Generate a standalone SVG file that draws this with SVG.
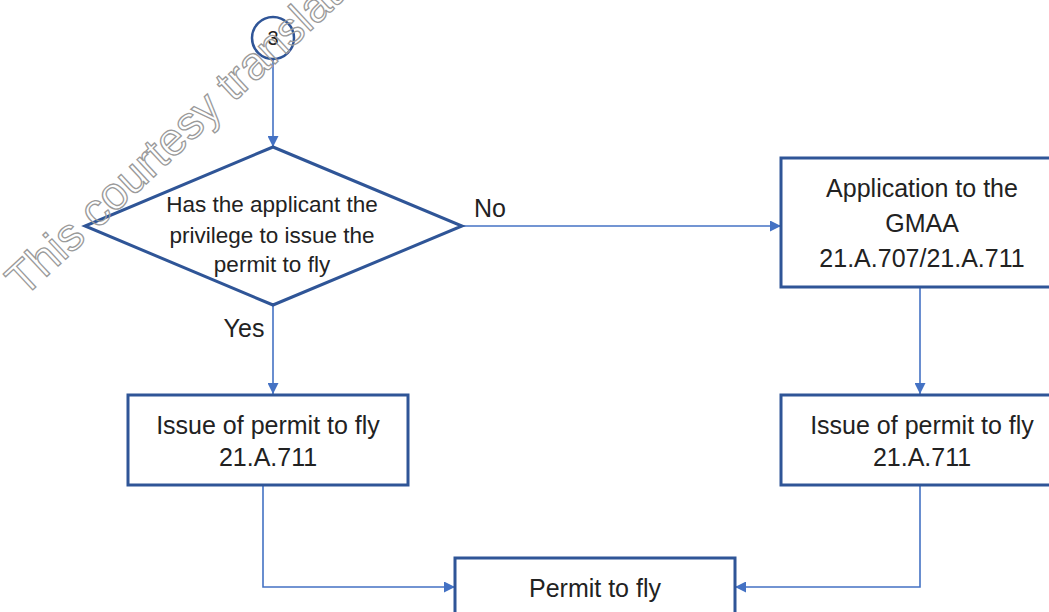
<svg xmlns="http://www.w3.org/2000/svg" width="1049" height="612" viewBox="0 0 1049 612">
<style>
.box{fill:#fff;stroke:#2F5597;stroke-width:3}
.conn{fill:none;stroke:#4472C4;stroke-width:1.6}
.t{font-family:"Liberation Sans",Arial,sans-serif;font-size:25px;fill:#222;text-anchor:middle}
.d{font-size:22.5px}
.wm{font-family:"Liberation Sans",Arial,sans-serif;font-size:46px;fill:none;stroke:#9a9a9a;stroke-width:1.3}
</style>
<defs>
<marker id="ah" viewBox="0 0 10 10" refX="10" refY="5" markerWidth="11" markerHeight="11" markerUnits="userSpaceOnUse" orient="auto">
<path d="M0,0 L10,5 L0,10 z" fill="#4472C4"/>
</marker>
</defs>
<g id="connectors">
<line class="conn" x1="273" y1="60" x2="273" y2="147" marker-end="url(#ah)"/>
<line class="conn" x1="462" y1="226" x2="781" y2="226" marker-end="url(#ah)"/>
<line class="conn" x1="273" y1="305" x2="273" y2="394" marker-end="url(#ah)"/>
<line class="conn" x1="920" y1="287" x2="920" y2="394" marker-end="url(#ah)"/>
<polyline class="conn" points="263,486 263,587 455,587" marker-end="url(#ah)"/>
<polyline class="conn" points="920,486 920,587 735,587" marker-end="url(#ah)"/>
<text class="t" x="490" y="217">No</text>
<text class="t" x="244" y="337">Yes</text>
</g>
<g id="start">
<circle cx="273" cy="38" r="21" fill="#fff" stroke="#2F5597" stroke-width="2.5"/>
<text class="t" x="273" y="45" style="font-size:20px">3</text>
</g>
<g id="decision">
<polygon class="box" points="273,147 462,226 273,305 85,226"/>
<text class="t d" x="272" y="212">Has the applicant the</text>
<text class="t d" x="272" y="243">privilege to issue the</text>
<text class="t d" x="272" y="272">permit to fly</text>
</g>
<g id="application">
<rect class="box" x="781" y="158" width="280" height="129"/>
<text class="t" x="922" y="197">Application to the</text>
<text class="t" x="922" y="232">GMAA</text>
<text class="t" x="922" y="267">21.A.707/21.A.711</text>
</g>
<g id="issue-left">
<rect class="box" x="128" y="395" width="280" height="90"/>
<text class="t" x="268" y="434">Issue of permit to fly</text>
<text class="t" x="268" y="466">21.A.711</text>
</g>
<g id="issue-right">
<rect class="box" x="781" y="395" width="280" height="90"/>
<text class="t" x="922" y="434">Issue of permit to fly</text>
<text class="t" x="922" y="466">21.A.711</text>
</g>
<g id="permit">
<rect class="box" x="455" y="558" width="280" height="80"/>
<text class="t" x="595" y="597">Permit to fly</text>
</g>
<text class="wm" transform="translate(24,298) rotate(-43)">This courtesy translation</text>
</svg>
